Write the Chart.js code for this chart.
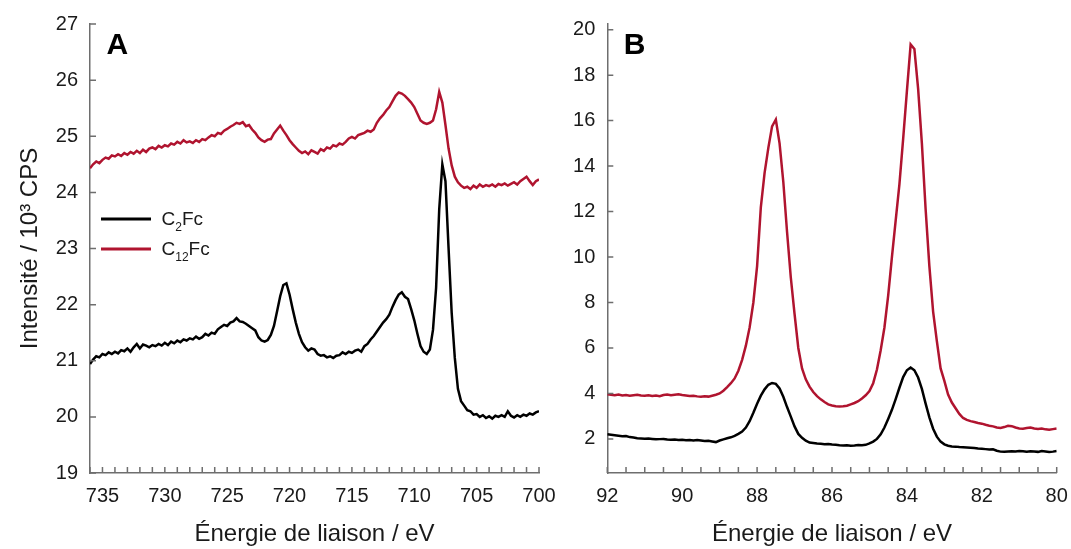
<!DOCTYPE html>
<html><head><meta charset="utf-8">
<script src="https://cdn.jsdelivr.net/npm/chart.js@4.4.1/dist/chart.umd.min.js"></script>
<style>
html,body{margin:0;padding:0;background:#fff;width:1071px;height:549px;overflow:hidden}
#wa{position:absolute;left:0;top:0;width:560px;height:549px}
#wb{position:absolute;left:560px;top:0;width:511px;height:549px}
</style></head><body>
<div id="wa"><canvas id="ca"></canvas></div>
<div id="wb"><canvas id="cb"></canvas></div>
<script>
// ---------- Panel A : Fe 2p ----------
const energyA = [
736,735.75,735.5,735.25, 735,734.75,734.5,734.25, 734,733.75,733.5,733.25,
733,732.75,732.5,732.25, 732,731.75,731.5,731.25, 731,730.75,730.5,730.25,
730,729.75,729.5,729.25, 729,728.75,728.5,728.25, 728,727.75,727.5,727.25,
727,726.75,726.5,726.25, 726,725.75,725.5,725.25, 725,724.75,724.5,724.25,
724,723.75,723.5,723.25, 723,722.75,722.5,722.25, 722,721.75,721.5,721.25,
721,720.75,720.5,720.25, 720,719.75,719.5,719.25, 719,718.75,718.5,718.25,
718,717.75,717.5,717.25, 717,716.75,716.5,716.25, 716,715.75,715.5,715.25,
715,714.75,714.5,714.25, 714,713.75,713.5,713.25, 713,712.75,712.5,712.25,
712,711.75,711.5,711.25, 711,710.75,710.5,710.25, 710,709.75,709.5,709.25,
709,708.75,708.5,708.25, 708,707.75,707.5,707.25, 707,706.75,706.5,706.25,
706,705.75,705.5,705.25, 705,704.75,704.5,704.25, 704,703.75,703.5,703.25,
703,702.75,702.5,702.25, 702,701.75,701.5,701.25, 701,700.75,700.5,700.25,
700];
const c2fcA = [
20.94,21.02,21.08,21.06, 21.12,21.10,21.15,21.12, 21.16,21.13,21.19,21.17,
21.22,21.16,21.24,21.30, 21.22,21.29,21.27,21.24, 21.28,21.26,21.30,21.27,
21.32,21.28,21.34,21.31, 21.36,21.33,21.38,21.36, 21.40,21.38,21.43,21.39,
21.42,21.48,21.45,21.50, 21.48,21.56,21.60,21.64, 21.62,21.68,21.70,21.76,
21.70,21.69,21.66,21.62, 21.58,21.54,21.42,21.36, 21.34,21.37,21.46,21.62,
21.88,22.15,22.35,22.38, 22.18,21.92,21.68,21.48, 21.33,21.24,21.18,21.22,
21.20,21.12,21.09,21.10, 21.06,21.08,21.05,21.09, 21.10,21.15,21.12,21.16,
21.14,21.18,21.20,21.16, 21.26,21.30,21.38,21.44, 21.52,21.60,21.68,21.74,
21.82,21.96,22.08,22.18, 22.22,22.14,22.10,21.92, 21.72,21.48,21.26,21.16,
21.12,21.20,21.55,22.30, 23.70,24.50,24.20,23.00, 21.85,21.05,20.50,20.28,
20.20,20.12,20.10,20.04, 20.05,20.00,20.03,19.98, 20.01,19.97,20.02,20.00,
20.03,20.00,20.10,20.02, 19.99,20.03,20.00,20.04, 20.02,20.06,20.04,20.08,
20.10];
const c12fcA = [
24.43,24.50,24.55,24.52, 24.58,24.62,24.60,24.66, 24.64,24.68,24.65,24.70,
24.67,24.72,24.69,24.74, 24.70,24.76,24.72,24.78, 24.80,24.77,24.83,24.80,
24.84,24.82,24.87,24.85, 24.90,24.87,24.93,24.89, 24.91,24.88,24.93,24.90,
24.95,24.93,24.98,25.02, 25.00,25.06,25.04,25.10, 25.13,25.17,25.20,25.24,
25.22,25.25,25.18,25.20, 25.12,25.06,24.98,24.93, 24.90,24.94,24.95,25.05,
25.12,25.19,25.10,25.02, 24.93,24.86,24.80,24.74, 24.70,24.73,24.68,24.75,
24.72,24.69,24.77,24.74, 24.80,24.78,24.84,24.82, 24.87,24.85,24.90,24.96,
24.99,24.96,25.02,25.04, 25.06,25.10,25.08,25.12, 25.24,25.32,25.38,25.46,
25.52,25.62,25.72,25.78, 25.76,25.72,25.66,25.60, 25.52,25.40,25.28,25.24,
25.22,25.24,25.28,25.48, 25.79,25.60,25.20,24.78, 24.48,24.28,24.18,24.12,
24.08,24.10,24.06,24.12, 24.08,24.14,24.10,24.13, 24.11,24.14,24.10,24.15,
24.13,24.16,24.12,24.15, 24.18,24.14,24.20,24.24, 24.28,24.20,24.13,24.20,
24.23];
const xLabelsA = [735,730,725,720,715,710,705,700];
const yTicksA = [19,20,21,22,23,24,25,26,27];

// ---------- Panel B : Au 4f ----------
const energyB = [
92,91.9,91.8,91.7,91.6,91.5,91.4,91.3,91.2,91.1,
91,90.9,90.8,90.7,90.6,90.5,90.4,90.3,90.2,90.1,
90,89.9,89.8,89.7,89.6,89.5,89.4,89.3,89.2,89.1,
89,88.9,88.8,88.7,88.6,88.5,88.4,88.3,88.2,88.1,
88,87.9,87.8,87.7,87.6,87.5,87.4,87.3,87.2,87.1,
87,86.9,86.8,86.7,86.6,86.5,86.4,86.3,86.2,86.1,
86,85.9,85.8,85.7,85.6,85.5,85.4,85.3,85.2,85.1,
85,84.9,84.8,84.7,84.6,84.5,84.4,84.3,84.2,84.1,
84,83.9,83.8,83.7,83.6,83.5,83.4,83.3,83.2,83.1,
83,82.9,82.8,82.7,82.6,82.5,82.4,82.3,82.2,82.1,
82,81.9,81.8,81.7,81.6,81.5,81.4,81.3,81.2,81.1,
81,80.9,80.8,80.7,80.6,80.5,80.4,80.3,80.2,80.1,
80];
const c2fcB = [
2.20,2.18,2.16,2.14,2.12,2.13,2.08,2.06,2.03,2.02,
2.01,2.02,2.00,1.98,1.99,2.00,1.97,1.96,1.97,1.95,
1.96,1.94,1.95,1.93,1.95,1.93,1.91,1.92,1.89,1.86,
1.93,1.98,2.03,2.07,2.13,2.22,2.32,2.50,2.78,3.15,
3.55,3.90,4.18,4.38,4.46,4.42,4.22,3.85,3.40,2.98,
2.55,2.22,2.05,1.92,1.84,1.82,1.80,1.79,1.77,1.78,
1.75,1.74,1.72,1.71,1.72,1.70,1.71,1.73,1.72,1.74,
1.80,1.88,2.00,2.20,2.50,2.88,3.28,3.75,4.25,4.72,
5.02,5.14,5.02,4.70,4.20,3.55,2.95,2.45,2.10,1.88,
1.76,1.70,1.67,1.66,1.64,1.63,1.62,1.61,1.60,1.58,
1.57,1.55,1.53,1.54,1.48,1.44,1.43,1.45,1.46,1.45,
1.47,1.46,1.44,1.46,1.45,1.43,1.47,1.45,1.42,1.44,
1.47];
const c12fcB = [
3.96,3.94,3.92,3.95,3.91,3.93,3.90,3.92,3.94,3.91,
3.90,3.92,3.89,3.91,3.88,3.93,3.95,3.92,3.94,3.96,
3.93,3.91,3.89,3.90,3.87,3.85,3.88,3.86,3.90,3.94,
4.00,4.12,4.28,4.45,4.66,5.00,5.48,6.10,6.90,8.00,
9.60,12.20,13.70,14.80,15.75,16.05,15.00,13.30,11.10,9.10,
7.50,6.00,5.10,4.62,4.30,4.06,3.88,3.74,3.62,3.52,
3.47,3.44,3.43,3.44,3.46,3.52,3.58,3.66,3.78,3.92,
4.10,4.45,5.05,5.90,6.90,8.30,10.00,11.60,13.20,15.20,
17.30,19.35,19.15,17.40,15.00,12.10,9.60,7.60,6.30,5.10,
4.55,3.95,3.60,3.35,3.10,2.92,2.84,2.78,2.74,2.70,
2.67,2.62,2.58,2.55,2.50,2.48,2.52,2.58,2.56,2.50,
2.46,2.45,2.48,2.50,2.46,2.44,2.46,2.42,2.40,2.43,
2.46];
const xLabelsB = [92,90,88,86,84,82,80];
const yTicksB = [2,4,6,8,10,12,14,16,18,20];

const seriesNames = [['C','2','Fc'], ['C','12','Fc']];
const seriesColors = ['#000000', '#b0142f'];
const xTitle = 'Énergie de liaison / eV';
const yTitle = 'Intensité / 10³ CPS';

// ---------- styling / helpers ----------
const FONT = '"Liberation Sans", Arial, Helvetica, sans-serif';
Chart.defaults.font.family = FONT;
const AXIS = '#6e6e6e';
const TXT = '#1a1a1a';

const innerTicks = {
  id: 'innerTicks',
  afterDraw(chart) {
    const {ctx, chartArea: a, scales: {x, y}} = chart;
    ctx.save();
    ctx.strokeStyle = AXIS; ctx.lineWidth = 1.5;
    ctx.beginPath();
    x.ticks.forEach(t => { const px = x.getPixelForValue(t.value); ctx.moveTo(px, a.bottom); ctx.lineTo(px, a.bottom - 6); });
    y.ticks.forEach(t => { const py = y.getPixelForValue(t.value); ctx.moveTo(a.left, py); ctx.lineTo(a.left + 6, py); });
    ctx.stroke();
    ctx.restore();
  }
};
const panelDecor = {
  id: 'panelDecor',
  afterDraw(chart, args, opts) {
    const {ctx, chartArea: a} = chart;
    ctx.save();
    ctx.fillStyle = '#000';
    ctx.font = 'bold 30px ' + FONT;
    ctx.textBaseline = 'alphabetic';
    ctx.fillText(opts.letter, a.left + 16.5, 53.5);
    if (opts.legend) {
      const rows = [219, 249];
      seriesNames.forEach((parts, i) => {
        const yl = rows[i];
        ctx.strokeStyle = seriesColors[i]; ctx.lineWidth = 3;
        ctx.beginPath(); ctx.moveTo(a.left + 11, yl); ctx.lineTo(a.left + 61, yl); ctx.stroke();
        let xt = a.left + 71.5; const base = yl + 6;
        ctx.fillStyle = TXT;
        ctx.font = '19px ' + FONT; ctx.fillText(parts[0], xt, base); xt += ctx.measureText(parts[0]).width;
        ctx.font = '12px ' + FONT; ctx.fillText(parts[1], xt, base + 6); xt += ctx.measureText(parts[1]).width;
        ctx.font = '19px ' + FONT; ctx.fillText(parts[2], xt, base);
      });
    }
    ctx.restore();
  }
};

function makeChart(canvas, cfg) {
  const toXY = (ex, ys) => ex.map((e, i) => ({x: e, y: ys[i]}));
  return new Chart(canvas, {
    type: 'line',
    data: {datasets: [
      {label: 'C2Fc', data: toXY(cfg.energy, cfg.s1), borderColor: seriesColors[0], borderWidth: 2.5, pointRadius: 0, tension: 0},
      {label: 'C12Fc', data: toXY(cfg.energy, cfg.s2), borderColor: seriesColors[1], borderWidth: 2.5, pointRadius: 0, tension: 0}
    ]},
    options: {
      responsive: true, maintainAspectRatio: false, animation: false,
      events: [],
      layout: {padding: {left: 0, right: cfg.padRight, top: 24, bottom: 0}},
      plugins: {legend: {display: false}, tooltip: {enabled: false}, panelDecor: {letter: cfg.letter, legend: cfg.legend}},
      scales: {
        x: {
          type: 'linear', reverse: true, min: cfg.xmin, max: cfg.xmax,
          grid: {display: false, drawTicks: false}, border: {display: true, color: AXIS, width: 1.5},
          afterBuildTicks: s => { s.ticks = cfg.minor.map(v => ({value: v})); },
          afterFit: s => { s.height = 76; },
          ticks: {autoSkip: false, maxRotation: 0, minRotation: 0, padding: 11, color: TXT, font: {size: 20},
                  callback: v => cfg.xLabels.some(l => Math.abs(l - v) < 1e-6) ? String(v) : ''},
          title: {display: true, text: xTitle, color: TXT, font: {size: 24}, padding: {top: 0, bottom: 0}}
        },
        y: {
          type: 'linear', min: cfg.ymin, max: cfg.ymax,
          grid: {display: false, drawTicks: false}, border: {display: true, color: AXIS, width: 1.5},
          afterBuildTicks: s => { s.ticks = cfg.yTicks.map(v => ({value: v})); },
          afterFit: s => { s.width = cfg.yWidth; },
          ticks: {autoSkip: false, padding: 12, color: TXT, font: {size: 20}},
          title: {display: cfg.yTitle, text: yTitle, color: TXT, font: {size: 24}, padding: {top: 15.6, bottom: 0}}
        }
      }
    },
    plugins: [innerTicks, panelDecor]
  });
}

const minorA = []; for (let v = 700; v <= 736; v += 1) minorA.push(v);
const minorB = []; for (let k = 160; k <= 184; k += 1) minorB.push(k / 2);

makeChart(document.getElementById('ca'), {
  energy: energyA, s1: c2fcA, s2: c12fcA, xmin: 700, xmax: 736, ymin: 19, ymax: 27,
  minor: minorA, xLabels: xLabelsA, yTicks: yTicksA, yWidth: 90, padRight: 21,
  letter: 'A', legend: true, yTitle: true
});
makeChart(document.getElementById('cb'), {
  energy: energyB, s1: c2fcB, s2: c12fcB, xmin: 80, xmax: 92, ymin: 0.5, ymax: 20.25,
  minor: minorB, xLabels: xLabelsB, yTicks: yTicksB, yWidth: 47.3, padRight: 14.3,
  letter: 'B', legend: false, yTitle: false
});
</script>
</body></html>
